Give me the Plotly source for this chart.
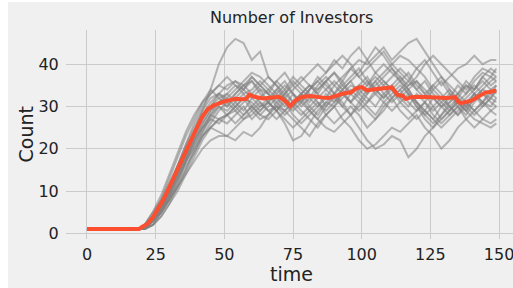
import plotly.graph_objects as go

# time points for the simulation runs
time = [0, 19, 21, 24, 27, 30, 33, 36, 39, 42, 45, 48, 51, 54, 57, 60, 63, 66, 69, 72,
        75, 78, 81, 84, 87, 90, 93, 96, 99, 102, 105, 108, 111, 114, 117, 120, 123, 126,
        129, 132, 135, 138, 141, 144, 147, 149]

runs = [
    [1,1,2,4,7,11,15,19,24,29,34,40,44,46,45,41,43,37,35,33,31,33,35,34,36,38,35,33,31,34,36,33,31,33,35,36,34,32,30,31,33,35,34,36,34,35],
    [1,1,1,3,5,8,12,16,19,23,26,29,31,33,35,36,34,31,29,26,22,23,26,29,31,30,33,35,34,32,30,33,35,32,30,33,31,29,31,33,30,28,31,33,32,34],
    [1,1,2,4,6,10,14,18,23,27,30,32,33,31,29,32,34,33,30,28,30,32,29,27,30,33,31,28,25,22,20,21,23,22,18,20,23,25,27,29,31,29,32,34,33,35],
    [1,1,1,2,4,7,11,15,20,24,28,31,33,35,34,32,30,31,34,36,33,31,34,37,35,33,36,39,41,40,42,44,41,43,45,46,43,40,37,35,33,36,34,37,39,38],
    [1,1,2,3,5,8,11,14,17,20,22,23,23,22,24,23,25,28,30,29,31,33,30,28,31,33,35,37,39,36,34,32,35,37,34,31,29,27,30,32,35,33,36,38,37,39],
    [1,1,1,3,6,9,13,17,21,25,28,30,29,31,33,30,28,30,32,34,31,29,27,25,28,30,27,25,22,20,21,23,25,24,26,28,25,23,20,22,25,27,29,31,30,32],
    [1,1,2,5,8,12,16,20,24,27,30,33,35,36,34,37,35,33,36,38,35,33,31,34,36,33,30,28,31,29,27,30,32,29,27,29,31,28,26,28,30,27,25,27,26,27],
    [1,1,1,3,6,10,14,19,23,26,29,31,32,34,36,38,37,35,33,31,29,31,34,36,38,40,42,40,37,39,41,43,40,38,36,39,41,38,35,37,39,40,42,40,41,41],
    [1,1,2,4,7,11,16,21,25,29,32,33,31,29,31,33,35,37,35,32,30,28,30,32,34,36,34,31,33,35,37,35,32,34,31,29,31,34,36,33,31,33,35,33,31,30],
    [1,1,1,2,5,8,11,15,19,23,25,27,28,29,27,29,31,29,27,29,31,33,35,33,30,32,34,36,38,41,44,42,39,36,33,31,28,30,27,29,31,29,27,26,25,26],
    [1,1,2,4,8,13,18,23,27,31,33,35,34,36,35,33,31,29,30,33,35,37,35,33,36,38,36,33,35,37,34,32,34,36,38,35,33,30,32,34,31,29,32,34,36,37],
    [1,1,1,3,5,9,13,17,20,23,25,24,23,25,27,28,30,32,34,32,30,32,34,36,34,32,30,33,35,33,36,38,40,42,41,39,37,34,32,30,28,30,33,35,37,36],
    [1,1,2,3,6,10,15,20,24,28,31,33,32,30,28,30,32,34,36,34,37,35,33,31,29,31,33,31,34,36,33,31,29,31,33,30,28,26,28,30,32,35,33,31,34,33],
    [1,1,1,2,5,8,12,17,22,26,29,31,30,32,34,36,33,31,29,32,34,36,38,40,38,41,39,42,44,41,38,36,34,32,34,36,33,35,37,34,32,30,33,31,29,30],
    [1,1,2,4,7,10,14,18,22,25,28,27,26,28,30,27,29,31,29,27,25,27,29,31,28,26,28,30,28,25,27,29,32,34,36,34,32,35,33,30,28,31,29,27,29,28],
    [1,1,1,3,6,11,16,21,26,30,33,35,37,35,33,34,36,34,32,30,33,31,29,27,25,24,26,28,30,33,35,37,39,37,35,37,40,42,40,38,36,34,37,39,38,37],
    [1,1,2,3,6,9,13,17,21,24,27,30,28,26,28,30,28,27,29,31,28,26,28,30,32,35,37,39,37,35,38,40,38,36,34,31,29,27,25,27,29,31,33,30,32,31],
    [1,1,1,2,4,7,10,14,18,22,25,27,28,30,32,31,29,31,33,35,33,30,32,35,37,35,33,31,29,31,34,36,34,31,29,27,29,32,30,28,30,32,34,37,35,36],
    [1,1,2,5,9,14,19,24,28,31,34,32,30,33,35,37,35,33,31,33,36,34,32,30,33,31,34,36,33,31,33,35,37,39,37,34,36,33,31,29,32,30,28,30,32,34],
    [1,1,1,3,5,9,14,18,22,25,27,26,28,30,32,29,27,28,31,29,27,25,23,26,28,30,32,34,32,30,28,31,33,35,33,30,27,25,28,31,33,31,29,31,33,32],
]

mean_time = [0, 19, 20, 22, 24, 26, 28, 30, 32, 34, 36, 38, 40, 42, 44, 46, 48, 50, 52, 54,
             56, 58, 59, 61, 64, 67, 70, 72, 74, 76, 78, 81, 84, 86, 88, 91, 94, 96, 98, 100,
             102, 104, 106, 108, 110, 111, 113, 115, 116, 118, 121, 124, 126, 129, 131, 134,
             135, 136, 138, 140, 142, 144, 145, 147, 149]
mean_count = [1, 1, 1.5, 2.2, 3.8, 5.8, 8.2, 11, 13.8, 17, 19.8, 22.4, 25, 27.6, 29.4, 30.2,
              30.8, 31.2, 31.5, 31.8, 31.7, 31.8, 32.8, 32.3, 31.9, 32.1, 32.3, 31.4, 30.1,
              31.5, 32.2, 32.5, 32.4, 32.1, 32, 32.7, 33.2, 33.3, 34.3, 34.6, 33.8, 34, 34.2,
              34.3, 34.6, 34.5, 32.8, 32.5, 31.8, 32.2, 32.3, 32.2, 32.1, 32.0, 32.0, 32.2,
              31.2, 30.8, 31, 31.4, 32.2, 32.9, 33.3, 33.5, 33.8]

x_ticks = [0, 25, 50, 75, 100, 125, 150]
y_ticks = [0, 10, 20, 30, 40]

FONT = "DejaVu Sans"
BG = "#f0f0f0"
GRID = "#cbcbcb"
TXT = "#222222"

fig = go.Figure()
for r in runs:
    fig.add_trace(go.Scatter(x=time, y=r, mode="lines",
                             line=dict(color="rgba(128,128,128,0.55)", width=2),
                             showlegend=False, hoverinfo="skip"))
fig.add_trace(go.Scatter(x=mean_time, y=mean_count, mode="lines",
                         line=dict(color="#fc4f30", width=4),
                         showlegend=False))

W, H = 513, 288
L, T, B = 66, 30, 49
plot_w = W - L
plot_h = H - T - B
fig.update_layout(
    width=W, height=H,
    margin=dict(l=L, r=0, t=T, b=B, pad=0),
    paper_bgcolor=BG, plot_bgcolor=BG,
    font=dict(family=FONT, color=TXT, size=16),
    xaxis=dict(range=[-7.64, 155.08], tickvals=x_ticks, ticktext=[str(v) for v in x_ticks],
               showgrid=True, gridcolor=GRID, gridwidth=1.3, zeroline=False, showline=False,
               ticks="outside", ticklen=1, tickcolor="rgba(0,0,0,0)",
               ticklabeloverflow="allow", automargin=False,
               tickfont=dict(size=16, color=TXT)),
    yaxis=dict(range=[-1.35, 48.1], tickvals=y_ticks, ticktext=[str(v) for v in y_ticks],
               showgrid=True, gridcolor=GRID, gridwidth=1.3, zeroline=False, showline=False,
               ticks="outside", ticklen=3, tickcolor="rgba(0,0,0,0)",
               ticklabeloverflow="allow", automargin=False,
               tickfont=dict(size=16, color=TXT)),
    annotations=[
        dict(text="Number of Investors", xref="paper", yref="paper",
             x=(291.6 - L) / plot_w, y=1, yshift=13, xanchor="center", yanchor="middle",
             showarrow=False, font=dict(size=16, color=TXT, family=FONT)),
        dict(text="time", xref="paper", yref="paper",
             x=(291.6 - L) / plot_w, y=0, yshift=-35, xanchor="center", yanchor="middle",
             showarrow=False, font=dict(size=19, color=TXT, family=FONT)),
        dict(text="Count", xref="paper", yref="paper",
             x=0, y=0.5, xshift=-41, xanchor="center", yanchor="middle", textangle=-90,
             showarrow=False, font=dict(size=19, color=TXT, family=FONT)),
    ],
    shapes=[
        dict(type="rect", xref="paper", yref="paper",
             x0=-L / plot_w - 0.01, x1=(8 - L) / plot_w, y0=-0.5, y1=1.5,
             fillcolor="white", line=dict(width=0), layer="above"),
        dict(type="rect", xref="paper", yref="paper",
             x0=-0.5, x1=1.5, y0=1 + (T - 2) / plot_h, y1=1 + (T + 5) / plot_h,
             fillcolor="white", line=dict(width=0), layer="above"),
    ],
)

fig.write_html("out.html", config={"displayModeBar": False},
               post_script="document.body.style.margin='0px';")
